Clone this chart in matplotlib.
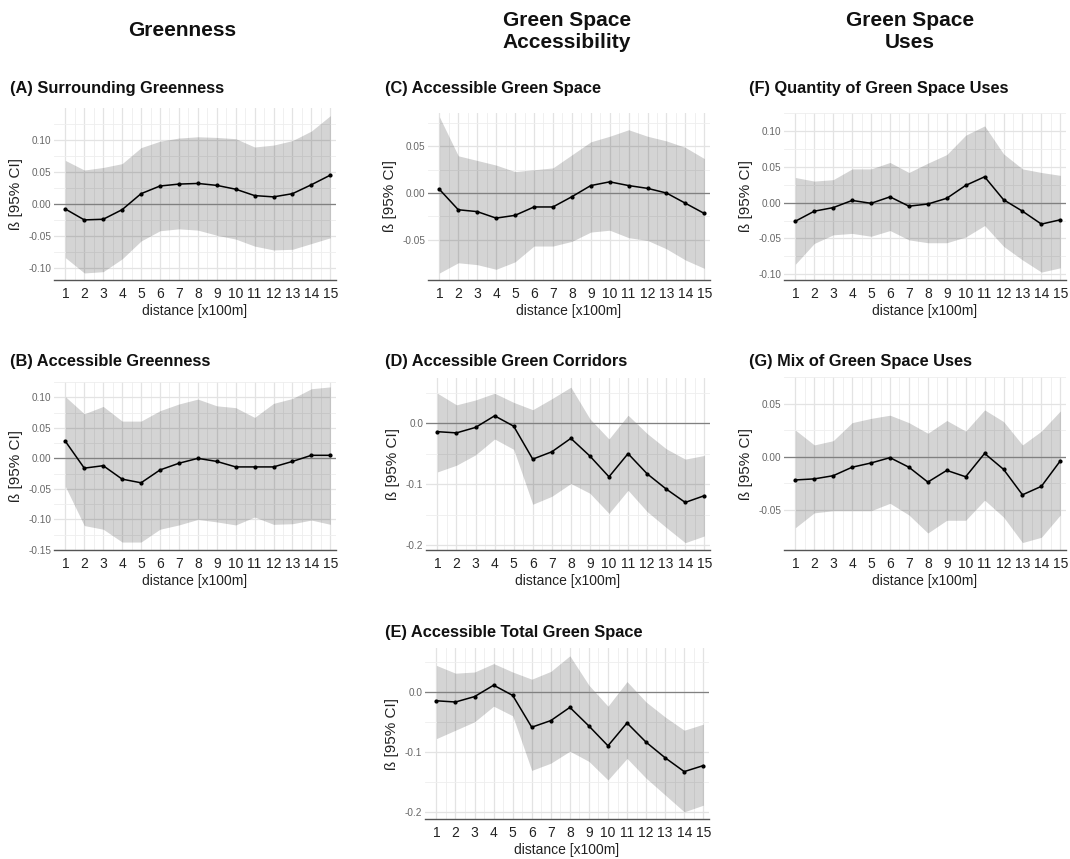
import matplotlib
matplotlib.use("Agg")
import matplotlib.pyplot as plt
import numpy as np

plt.rcParams['font.family'] = ['Liberation Sans', 'DejaVu Sans']

distance = list(range(1, 16))

# (A) Surrounding Greenness
a_est = [-0.008, -0.025, -0.024, -0.009, 0.016, 0.028, 0.031, 0.032, 0.029, 0.023, 0.013, 0.011, 0.016, 0.030, 0.045]
a_hi = [0.068, 0.053, 0.057, 0.063, 0.088, 0.098, 0.103, 0.105, 0.104, 0.102, 0.089, 0.092, 0.099, 0.114, 0.138]
a_lo = [-0.084, -0.108, -0.106, -0.086, -0.058, -0.042, -0.039, -0.041, -0.049, -0.055, -0.066, -0.072, -0.071, -0.062, -0.053]

# (B) Accessible Greenness
b_est = [0.028, -0.016, -0.012, -0.034, -0.040, -0.019, -0.008, 0.000, -0.005, -0.014, -0.014, -0.014, -0.005, 0.005, 0.005]
b_hi = [0.101, 0.073, 0.085, 0.061, 0.061, 0.078, 0.089, 0.097, 0.086, 0.083, 0.067, 0.090, 0.098, 0.114, 0.117]
b_lo = [-0.046, -0.110, -0.116, -0.137, -0.137, -0.116, -0.109, -0.100, -0.104, -0.109, -0.096, -0.108, -0.107, -0.101, -0.108]

# (C) Accessible Green Space
c_est = [0.004, -0.018, -0.020, -0.027, -0.024, -0.015, -0.015, -0.004, 0.008, 0.012, 0.008, 0.005, 0.000, -0.011, -0.022]
c_hi = [0.082, 0.040, 0.035, 0.030, 0.023, 0.025, 0.027, 0.041, 0.055, 0.061, 0.068, 0.061, 0.056, 0.049, 0.037]
c_lo = [-0.086, -0.075, -0.077, -0.082, -0.074, -0.057, -0.057, -0.052, -0.042, -0.040, -0.048, -0.051, -0.060, -0.072, -0.081]

# (D) Accessible Green Corridors
d_est = [-0.014, -0.016, -0.007, 0.012, -0.005, -0.059, -0.047, -0.025, -0.054, -0.088, -0.050, -0.083, -0.108, -0.130, -0.119]
d_hi = [0.049, 0.030, 0.038, 0.049, 0.034, 0.022, 0.040, 0.059, 0.007, -0.026, 0.013, -0.017, -0.042, -0.059, -0.053]
d_lo = [-0.080, -0.069, -0.052, -0.026, -0.043, -0.133, -0.120, -0.099, -0.115, -0.148, -0.110, -0.145, -0.171, -0.196, -0.185]

# (E) Accessible Total Green Space
e_est = [-0.015, -0.017, -0.008, 0.011, -0.006, -0.059, -0.048, -0.026, -0.057, -0.090, -0.052, -0.084, -0.110, -0.133, -0.123]
e_hi = [0.044, 0.031, 0.033, 0.047, 0.033, 0.021, 0.034, 0.060, 0.011, -0.024, 0.017, -0.017, -0.042, -0.064, -0.054]
e_lo = [-0.078, -0.064, -0.050, -0.024, -0.040, -0.131, -0.119, -0.099, -0.116, -0.147, -0.111, -0.144, -0.172, -0.200, -0.189]

# (F) Quantity of Green Space Uses
f_est = [-0.026, -0.012, -0.007, 0.003, -0.001, 0.008, -0.005, -0.002, 0.006, 0.024, 0.036, 0.004, -0.012, -0.030, -0.024]
f_hi = [0.035, 0.030, 0.032, 0.047, 0.047, 0.056, 0.042, 0.055, 0.067, 0.094, 0.107, 0.068, 0.047, 0.042, 0.038]
f_lo = [-0.086, -0.057, -0.045, -0.043, -0.047, -0.039, -0.052, -0.056, -0.056, -0.048, -0.032, -0.061, -0.080, -0.097, -0.091]

# (G) Mix of Green Space Uses
g_est = [-0.022, -0.021, -0.018, -0.010, -0.006, -0.001, -0.010, -0.024, -0.013, -0.019, 0.003, -0.012, -0.036, -0.028, -0.004]
g_hi = [0.025, 0.011, 0.015, 0.032, 0.036, 0.039, 0.032, 0.022, 0.034, 0.024, 0.044, 0.033, 0.011, 0.024, 0.043]
g_lo = [-0.067, -0.053, -0.051, -0.051, -0.051, -0.044, -0.055, -0.072, -0.060, -0.060, -0.041, -0.057, -0.081, -0.076, -0.055]

W, H = 1070, 859


def rect(l, r, t, b):
    return [l / W, 1 - b / H, (r - l) / W, (b - t) / H]


# title, data, axes box in pixels (left, right, top, bottom), ylim, yticks, tick format, title position
panels = [
    ("(A) Surrounding Greenness", a_est, a_lo, a_hi, (54, 336, 108, 280), (-0.119, 0.150),
     [-0.10, -0.05, 0.0, 0.05, 0.10], "{:.2f}", (10, 89)),
    ("(B) Accessible Greenness", b_est, b_lo, b_hi, (54, 336, 382, 550), (-0.150, 0.124),
     [-0.15, -0.10, -0.05, 0.0, 0.05, 0.10], "{:.2f}", (10, 361)),
    ("(C) Accessible Green Space", c_est, c_lo, c_hi, (428, 710, 113, 280), (-0.0935, 0.086),
     [-0.05, 0.0, 0.05], "{:.2f}", (385, 89)),
    ("(D) Accessible Green Corridors", d_est, d_lo, d_hi, (426, 710, 378, 550), (-0.208, 0.074),
     [-0.2, -0.1, 0.0], "{:.1f}", (385, 361)),
    ("(E) Accessible Total Green Space", e_est, e_lo, e_hi, (425, 709, 648, 819), (-0.212, 0.073),
     [-0.2, -0.1, 0.0], "{:.1f}", (385, 633)),
    ("(F) Quantity of Green Space Uses", f_est, f_lo, f_hi, (784, 1066, 113, 280), (-0.108, 0.112),
     [-0.10, -0.05, 0.0, 0.05, 0.10], "{:.2f}", (749, 89)),
    ("(G) Mix of Green Space Uses", g_est, g_lo, g_hi, (784, 1066, 377, 550), (-0.088, 0.0516),
     [-0.05, 0.0, 0.05], "{:.2f}", (749, 361)),
]

fig = plt.figure(figsize=(W / 100, H / 100), dpi=100)

for title, est, lo, hi, box, ylim, yticks, fmt, tpos in panels:
    ax = fig.add_axes(rect(*box))
    ax.set_xlim(0.4, 15.3)
    ax.set_ylim(*ylim)
    ax.set_xticks(distance)
    ax.set_xticks(np.arange(1.5, 15, 1), minor=True)
    ax.set_yticks(yticks)
    ax.set_yticks([(yticks[i] + yticks[i + 1]) / 2 for i in range(len(yticks) - 1)]
                  + [yticks[-1] + (yticks[1] - yticks[0]) / 2], minor=True)
    ax.set_yticklabels([fmt.format(v).replace("-0.00", "0.00") for v in yticks])
    ax.grid(True, which='major', color='#e3e3e3', lw=0.9, zorder=0)
    ax.grid(True, which='minor', color='#eeeeee', lw=0.6, zorder=0)
    ax.set_axisbelow(True)
    for s in ['top', 'right', 'left']:
        ax.spines[s].set_visible(False)
    ax.spines['bottom'].set_color('#555555')
    ax.spines['bottom'].set_linewidth(1.0)
    ax.tick_params(which='both', length=0)
    ax.tick_params(axis='x', labelsize=10, labelcolor='#222222', pad=5)
    ax.tick_params(axis='y', labelsize=7.2, labelcolor='#666666', pad=2)

    ax.fill_between(distance, lo, hi, color='black', alpha=0.17, lw=0, zorder=2)
    ax.axhline(0, color='#808080', lw=0.9, zorder=3)
    ax.plot(distance, est, color='black', lw=1.1, marker='o', ms=2, zorder=4)

    ax.set_xlabel("distance [x100m]", fontsize=10, color='#222222', labelpad=2)
    ax.set_ylabel("ß [95% CI]", fontsize=11, color='#222222', labelpad=4)

    fig.text(tpos[0] / W, 1 - tpos[1] / H, title, fontsize=11.8, fontweight='bold',
             ha='left', va='center', color='#111111')

headers = [("Greenness", 182, 30), ("Green Space\nAccessibility", 567, 31), ("Green Space\nUses", 910, 31)]
for txt, x, y in headers:
    fig.text(x / W, 1 - y / H, txt, fontsize=15, fontweight='bold', ha='center', va='center',
             linespacing=1.2, color='#111111')

fig.savefig("out.png", dpi=100)
